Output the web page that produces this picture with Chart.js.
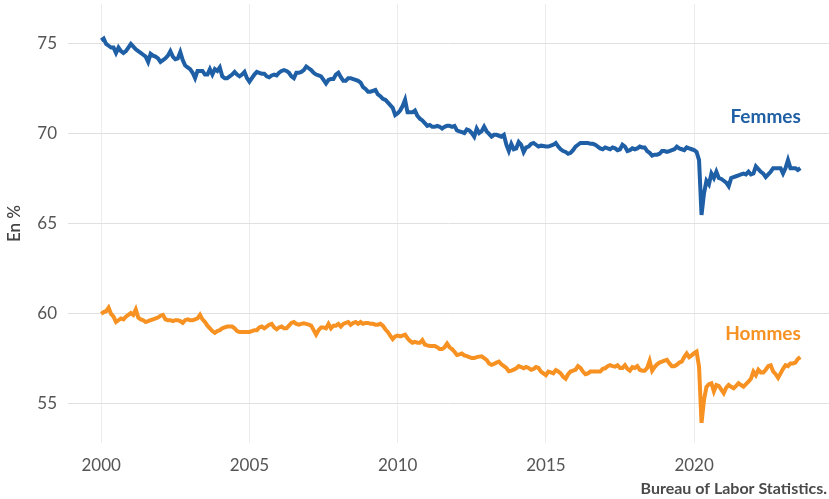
<!DOCTYPE html>
<html lang="fr">
<head>
<meta charset="utf-8">
<title>Taux d'activité</title>
<script src="https://cdn.jsdelivr.net/npm/chart.js@4/dist/chart.umd.min.js"></script>
<style>
  html, body { margin: 0; padding: 0; background: #fff; }
  .chartBox { position: relative; width: 829px; height: 499px; }
</style>
</head>
<body>
<div class="chartBox">
  <canvas id="myChart"></canvas>
</div>
<script>
// monthly values, Jan 2000 -> Aug 2023
const startYear = 2000;
const femmes = [
  75.2, 75.3, 75.0, 74.9, 74.8, 74.8, 74.5, 74.8, 74.6, 74.5, 74.6, 74.8,
  75.0, 74.85, 74.7, 74.6, 74.5, 74.4, 74.3, 74.0, 74.45, 74.35, 74.3, 74.2,
  74.0, 74.1, 74.2, 74.35, 74.6, 74.3, 74.15, 74.2, 74.55, 74.1, 73.8, 73.7,
  73.6, 73.4, 73.1, 73.5, 73.5, 73.5, 73.3, 73.3, 73.6, 73.3, 73.6, 73.5,
  73.7, 73.2, 73.1, 73.1, 73.2, 73.3, 73.45, 73.3, 73.2, 73.3, 73.45, 73.1,
  72.9, 73.1, 73.3, 73.45, 73.4, 73.35, 73.35, 73.2, 73.15, 73.25, 73.3, 73.25,
  73.4, 73.5, 73.55, 73.5, 73.4, 73.2, 73.1, 73.4, 73.4, 73.45, 73.55, 73.75,
  73.65, 73.55, 73.4, 73.3, 73.25, 73.2, 73.0, 72.8, 73.0, 73.05, 73.05, 73.3,
  73.4, 73.15, 72.95, 72.95, 73.1, 73.1, 73.05, 73.0, 72.95, 72.85, 72.6, 72.5,
  72.35, 72.35, 72.4, 72.45, 72.2, 72.1, 71.95, 71.9, 71.75, 71.6, 71.45, 71.05,
  71.15, 71.3, 71.55, 71.9, 71.2, 71.2, 71.2, 71.3, 71.0, 70.85, 70.75, 70.6,
  70.45, 70.5, 70.4, 70.4, 70.45, 70.4, 70.3, 70.4, 70.45, 70.45, 70.4, 70.45,
  70.2, 70.15, 70.1, 70.05, 70.25, 70.2, 70.05, 69.85, 70.3, 70.05, 70.15, 70.4,
  70.15, 70.0, 69.85, 69.95, 69.95, 69.9, 69.85, 69.95, 69.4, 69.05, 69.45, 69.15,
  69.2, 69.55, 69.4, 69.0, 69.25, 69.3, 69.45, 69.5, 69.4, 69.3, 69.35, 69.33,
  69.3, 69.3, 69.35, 69.4, 69.5, 69.3, 69.15, 69.05, 69.0, 68.9, 68.95, 69.1,
  69.3, 69.4, 69.5, 69.5, 69.5, 69.5, 69.45, 69.45, 69.4, 69.3, 69.2, 69.15,
  69.25, 69.2, 69.15, 69.25, 69.2, 69.1, 69.15, 69.4, 69.3, 69.05, 69.1, 69.2,
  69.15, 69.2, 69.3, 69.25, 69.25, 69.05, 68.95, 68.8, 68.85, 68.85, 68.9, 69.05,
  69.05, 69.0, 69.05, 69.1, 69.15, 69.3, 69.2, 69.15, 69.1, 69.25, 69.2, 69.15,
  69.1, 69.0, 68.55, 65.5, 66.7, 67.4, 67.2, 67.8, 67.55, 67.9, 67.55, 67.5,
  67.4, 67.3, 67.1, 67.55, 67.6, 67.65, 67.7, 67.75, 67.8, 67.75, 67.9, 67.75,
  67.8, 68.2, 68.05, 67.9, 67.8, 67.6, 67.75, 67.9, 68.1, 68.1, 68.1, 68.1,
  67.8, 68.1, 68.55, 68.1, 68.1, 68.1, 68.0, 68.1
];
const hommes = [
  60.0, 60.1, 60.15, 60.35, 60.0, 59.85, 59.55, 59.65, 59.75, 59.7, 59.85, 59.95,
  60.05, 59.95, 60.25, 59.8, 59.7, 59.65, 59.55, 59.6, 59.65, 59.7, 59.75, 59.8,
  59.9, 59.95, 59.7, 59.65, 59.65, 59.6, 59.65, 59.65, 59.6, 59.5, 59.65, 59.7,
  59.65, 59.65, 59.7, 59.75, 59.95, 59.7, 59.55, 59.35, 59.2, 59.05, 58.95, 59.05,
  59.1, 59.2, 59.25, 59.3, 59.3, 59.3, 59.2, 59.05, 59.0, 59.0, 59.0, 59.0,
  59.0, 59.05, 59.1, 59.1, 59.25, 59.3, 59.2, 59.3, 59.4, 59.45, 59.25, 59.15,
  59.25, 59.3, 59.2, 59.2, 59.35, 59.5, 59.55, 59.45, 59.4, 59.45, 59.48, 59.45,
  59.4, 59.35, 59.1, 58.85, 59.1, 59.25, 59.25, 59.2, 59.45, 59.2, 59.35, 59.35,
  59.45, 59.3, 59.45, 59.5, 59.55, 59.4, 59.5, 59.55, 59.45, 59.55, 59.45, 59.5,
  59.5, 59.45, 59.45, 59.4, 59.4, 59.45, 59.35, 59.15, 59.0, 58.8, 58.6, 58.75,
  58.8, 58.75, 58.8, 58.85, 58.65, 58.5, 58.4, 58.45, 58.4, 58.4, 58.55, 58.3,
  58.25, 58.22, 58.22, 58.22, 58.15, 58.05, 58.05, 58.15, 58.35, 58.15, 58.05, 57.9,
  57.72, 57.75, 57.8, 57.7, 57.65, 57.6, 57.55, 57.55, 57.6, 57.63, 57.65, 57.55,
  57.45, 57.25, 57.17, 57.22, 57.3, 57.35, 57.2, 57.1, 57.0, 56.82, 56.85, 56.9,
  56.98, 57.1, 57.05, 56.98, 57.05, 57.0, 56.9, 56.95, 57.05, 57.0, 56.8, 56.7,
  56.6, 56.8, 56.75, 56.7, 56.88, 56.8, 56.7, 56.5, 56.4, 56.65, 56.8, 56.85,
  56.9, 57.1, 57.0, 56.8, 56.65, 56.7, 56.8, 56.8, 56.8, 56.8, 56.8, 56.95,
  56.98, 57.1, 57.15, 57.1, 57.07, 57.15, 57.0, 57.0, 57.15, 56.95, 56.85, 57.05,
  57.0, 57.1, 56.9, 56.85, 56.85, 57.0, 57.4, 56.85, 57.05, 57.2, 57.3, 57.35,
  57.4, 57.45, 57.25, 57.1, 57.1, 57.17, 57.3, 57.35, 57.6, 57.8, 57.6, 57.7,
  57.82, 57.91, 57.07, 53.95, 55.22, 55.95, 56.1, 56.15, 55.7, 56.05, 56.0, 55.8,
  55.6, 55.9, 56.05, 55.95, 55.87, 56.0, 56.15, 56.05, 55.96, 56.1, 56.24, 56.4,
  56.8, 56.6, 56.9, 56.75, 56.75, 56.9, 57.1, 57.15, 56.8, 56.65, 56.45, 56.7,
  56.95, 57.15, 57.1, 57.25, 57.25, 57.3, 57.5, 57.6
];
const xTicks = [2000, 2005, 2010, 2015, 2020];
const yTicks = [55, 60, 65, 70, 75];
const seriesNames = ["Femmes", "Hommes"];
const source = "Bureau of Labor Statistics.";

const BLUE = "#1f5fa6";
const ORANGE = "#f79122";
const FONT = "Lato, 'Open Sans', sans-serif";

const toPoints = (arr) => arr.map((v, i) => ({ x: startYear + i / 12, y: v }));

// series names next to the lines, plus the source line
const annotations = {
  id: "annotations",
  afterDatasetsDraw(chart) {
    const { ctx, scales: { x, y } } = chart;
    const spots = [
      { text: seriesNames[0], color: BLUE, at: 70.95 },
      { text: seriesNames[1], color: ORANGE, at: 58.9 }
    ];
    ctx.save();
    ctx.font = "bold 19px " + FONT;
    ctx.textAlign = "right";
    ctx.textBaseline = "middle";
    spots.forEach(s => {
      ctx.fillStyle = s.color;
      ctx.fillText(s.text, x.getPixelForValue(2023.6), y.getPixelForValue(s.at));
    });
    ctx.font = "bold 16px " + FONT;
    ctx.fillStyle = "#4a4a4a";
    ctx.textBaseline = "alphabetic";
    ctx.fillText(source, chart.width - 2, chart.height - 5);
    ctx.restore();
  }
};

const config = {
  type: "line",
  data: {
    datasets: [
      { label: seriesNames[0], data: toPoints(femmes), borderColor: BLUE, borderWidth: 4 },
      { label: seriesNames[1], data: toPoints(hommes), borderColor: ORANGE, borderWidth: 4 }
    ]
  },
  options: {
    responsive: true,
    maintainAspectRatio: false,
    animation: false,
    events: [],
    elements: { point: { radius: 0 }, line: { tension: 0, borderJoinStyle: "miter" } },
    layout: { padding: { top: 4, right: 0, left: 0, bottom: 0 } },
    plugins: { legend: false, tooltip: { enabled: false } },
    scales: {
      x: {
        type: "linear",
        min: 1998.88,
        max: 2024.55,
        afterBuildTicks: (s) => { s.ticks = xTicks.map(v => ({ value: v })); },
        afterFit: (s) => { s.height = 56; s.paddingLeft = 0; s.paddingRight = 0; },
        grid: { color: "#ececec", lineWidth: 1, drawTicks: false },
        border: { display: false },
        ticks: {
          color: "#555", font: { family: FONT, size: 17 }, padding: 12, maxRotation: 0,
          callback: (v) => String(v)
        }
      },
      y: {
        min: 52.83,
        max: 77.22,
        afterBuildTicks: (s) => { s.ticks = yTicks.map(v => ({ value: v })); },
        afterFit: (s) => { s.width = 68; s.paddingTop = 0; s.paddingBottom = 0; },
        grid: { color: "#e0e0e0", lineWidth: 1, drawTicks: false },
        border: { display: false },
        title: { display: true, text: "En %", color: "#444", font: { family: FONT, size: 17, weight: "600" }, padding: { top: 4, bottom: 0 } },
        ticks: { color: "#555", font: { family: FONT, size: 17 }, padding: 11 }
      }
    }
  },
  plugins: [annotations]
};

new Chart(document.getElementById("myChart"), config);
</script>
</body>
</html>
